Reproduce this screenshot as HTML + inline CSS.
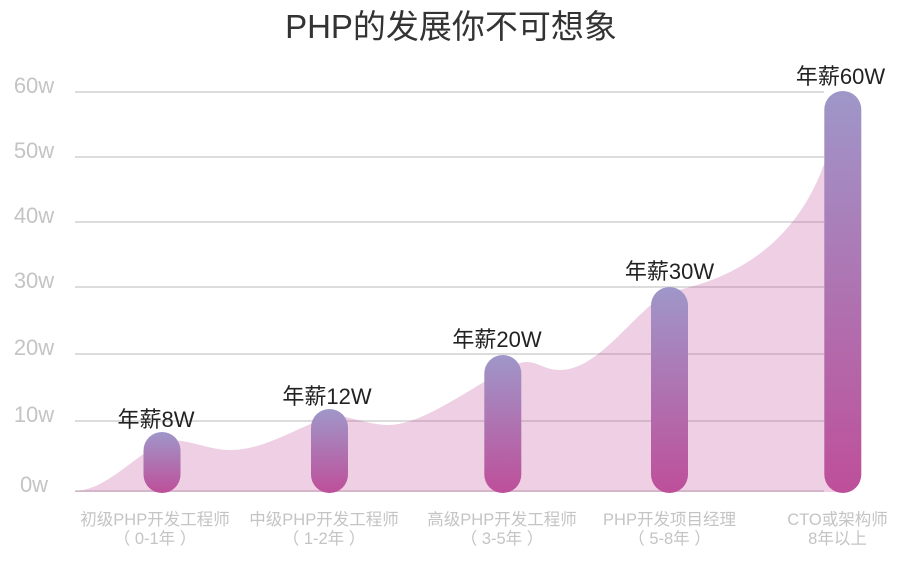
<!DOCTYPE html>
<html>
<head>
<meta charset="utf-8">
<style>
html,body{margin:0;padding:0;background:#fff;}
svg{display:block;}
</style>
</head>
<body>
<svg width="900" height="567" viewBox="0 0 900 567" xmlns="http://www.w3.org/2000/svg">
<defs>
<linearGradient id="bg" x1="0" y1="0" x2="0" y2="1">
<stop offset="0" stop-color="#9f97c9"/>
<stop offset="1" stop-color="#be4f9a"/>
</linearGradient>
</defs>
<rect width="900" height="567" fill="#fff"/>
<text x="451" y="38" text-anchor="middle" font-family="'Liberation Sans','Noto Sans CJK SC',sans-serif" font-size="33" fill="#333">PHP的发展你不可想象</text>

<g stroke="#dcdcdc" stroke-width="2">
<line x1="75" y1="92" x2="824" y2="92"/>
<line x1="75" y1="157" x2="824" y2="157"/>
<line x1="75" y1="222" x2="824" y2="222"/>
<line x1="75" y1="287" x2="824" y2="287"/>
<line x1="75" y1="354" x2="824" y2="354"/>
<line x1="75" y1="421" x2="824" y2="421"/>
<line x1="75" y1="491" x2="824" y2="491"/>
</g>

<g font-family="'Liberation Sans',sans-serif" font-size="22" fill="#c4c4c4" text-anchor="middle">
<text x="34" y="93">60w</text>
<text x="34" y="158">50w</text>
<text x="34" y="223">40w</text>
<text x="34" y="288">30w</text>
<text x="34" y="355">20w</text>
<text x="34" y="422">10w</text>
<text x="34" y="492">0w</text>
</g>

<path d="M75,491 C105,490 130,460 162,442 C185,436 205,450 230,450 C265,450 295,428 329,417 C345,413 365,425 388,425 C420,425 460,395 503,371 C512,366 519,362 527,362 C538,362 545,370 560,370 C600,370 635,310 669,292 C720,282 790,255 823,167 L842,120 L842,492 L75,492 Z" fill="#c14f9a" fill-opacity="0.27"/>

<g fill="url(#bg)">
<rect x="143.5" y="432" width="37" height="61" rx="18.5"/>
<rect x="311" y="409" width="37" height="84" rx="18.5"/>
<rect x="484.3" y="355" width="37" height="138" rx="18.5"/>
<rect x="651" y="287" width="37" height="206" rx="18.5"/>
<rect x="824.3" y="91" width="37" height="402" rx="18.5"/>
</g>

<g font-family="'Liberation Sans','Noto Sans CJK SC',sans-serif" font-size="22" fill="#222" text-anchor="middle">
<text x="156" y="427">年薪8W</text>
<text x="327" y="404">年薪12W</text>
<text x="497" y="347">年薪20W</text>
<text x="669.5" y="279">年薪30W</text>
<text x="840.5" y="84">年薪60W</text>
</g>

<g font-family="'Liberation Sans','Noto Sans CJK SC',sans-serif" font-size="16.5" fill="#c4c4c4" text-anchor="middle">
<text x="155" y="525">初级PHP开发工程师</text>
<text x="155" y="544" xml:space="preserve">（ 0-1年 ）</text>
<text x="324" y="525">中级PHP开发工程师</text>
<text x="324" y="544" xml:space="preserve">（ 1-2年 ）</text>
<text x="502" y="525">高级PHP开发工程师</text>
<text x="502" y="544" xml:space="preserve">（ 3-5年 ）</text>
<text x="669.5" y="525">PHP开发项目经理</text>
<text x="669.5" y="544" xml:space="preserve">（ 5-8年 ）</text>
<text x="837.5" y="525">CTO或架构师</text>
<text x="837.5" y="544">8年以上</text>
</g>
</svg>
</body>
</html>
